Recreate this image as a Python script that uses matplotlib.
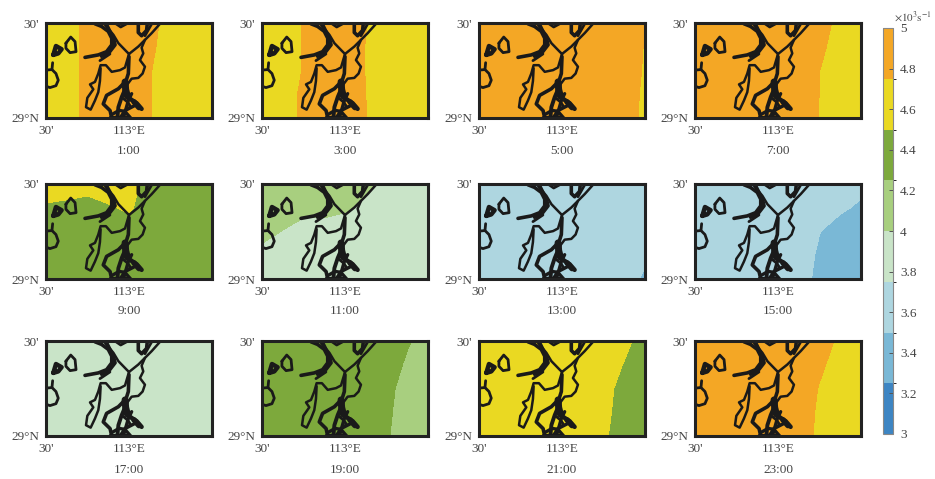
from matplotlib import pyplot as plt
from matplotlib.colors import ListedColormap, BoundaryNorm
import numpy as np

plt.rcParams['font.family'] = ['Liberation Serif', 'DejaVu Sans']
plt.rcParams['mathtext.fontset'] = 'stix'

W, H = 935, 479
text_color = '#454545'
frame_color = '#222222'

levels = [3, 3.25, 3.5, 3.75, 4, 4.25, 4.5, 4.75, 5]
band_colors = ['#3D85C3', '#7AB8D6', '#AED6E0', '#C9E4C8',
               '#A8CF7F', '#7DA93C', '#EAD922', '#F4A725']
cbar_ticks = [3, 3.2, 3.4, 3.6, 3.8, 4, 4.2, 4.4, 4.6, 4.8, 5]
cbar_labels = ['3', '3.2', '3.4', '3.6', '3.8', '4', '4.2', '4.4', '4.6', '4.8', '5']

lons = [112.5, 112.625, 112.75, 112.875, 113.0, 113.125, 113.25, 113.375, 113.5]
lats = [29.0, 29.125, 29.25, 29.375, 29.5]

# rows run from 29N up to 29.5N
field_0100 = [[4.60, 4.70, 4.78, 4.85, 4.85, 4.76, 4.66, 4.60, 4.60],
              [4.60, 4.70, 4.78, 4.85, 4.85, 4.76, 4.66, 4.60, 4.60],
              [4.60, 4.70, 4.78, 4.85, 4.85, 4.76, 4.66, 4.60, 4.60],
              [4.60, 4.70, 4.78, 4.85, 4.85, 4.78, 4.68, 4.60, 4.60],
              [4.60, 4.70, 4.78, 4.85, 4.85, 4.79, 4.70, 4.60, 4.60]]
field_0300 = [[4.60, 4.70, 4.77, 4.85, 4.85, 4.755, 4.65, 4.60, 4.60],
              [4.60, 4.70, 4.77, 4.85, 4.85, 4.75, 4.65, 4.60, 4.60],
              [4.60, 4.70, 4.755, 4.85, 4.85, 4.745, 4.65, 4.60, 4.60],
              [4.60, 4.70, 4.755, 4.85, 4.85, 4.745, 4.65, 4.60, 4.60],
              [4.60, 4.70, 4.755, 4.85, 4.85, 4.755, 4.65, 4.60, 4.60]]
field_0500 = [[4.85, 4.85, 4.85, 4.85, 4.85, 4.85, 4.85, 4.79, 4.73],
              [4.85, 4.85, 4.85, 4.85, 4.85, 4.85, 4.85, 4.79, 4.735],
              [4.85, 4.85, 4.85, 4.85, 4.85, 4.85, 4.85, 4.80, 4.74],
              [4.85, 4.85, 4.85, 4.85, 4.85, 4.85, 4.85, 4.80, 4.745],
              [4.85, 4.85, 4.85, 4.85, 4.85, 4.85, 4.85, 4.80, 4.76]]
field_0700 = [[4.85, 4.85, 4.85, 4.85, 4.85, 4.85, 4.745, 4.65, 4.60],
              [4.85, 4.85, 4.85, 4.85, 4.85, 4.85, 4.748, 4.65, 4.60],
              [4.85, 4.85, 4.85, 4.85, 4.85, 4.85, 4.752, 4.65, 4.60],
              [4.85, 4.85, 4.85, 4.85, 4.85, 4.85, 4.79, 4.67, 4.60],
              [4.85, 4.85, 4.85, 4.85, 4.85, 4.85, 4.82, 4.70, 4.60]]
field_0900 = [[4.38, 4.38, 4.38, 4.38, 4.38, 4.38, 4.38, 4.38, 4.38],
              [4.38, 4.38, 4.38, 4.38, 4.38, 4.38, 4.38, 4.38, 4.38],
              [4.38, 4.38, 4.38, 4.38, 4.38, 4.38, 4.38, 4.38, 4.38],
              [4.475, 4.45, 4.35, 4.47, 4.54, 4.35, 4.35, 4.35, 4.35],
              [4.60, 4.60, 4.65, 4.65, 4.65, 4.35, 4.35, 4.35, 4.35]]
field_1100 = [[3.85, 3.85, 3.85, 3.85, 3.85, 3.85, 3.85, 3.85, 3.85],
              [3.90, 3.85, 3.85, 3.85, 3.85, 3.85, 3.85, 3.85, 3.85],
              [4.10, 3.99, 3.80, 3.80, 3.80, 3.85, 3.85, 3.85, 3.85],
              [4.15, 4.15, 4.15, 4.15, 4.05, 3.90, 3.85, 3.85, 3.85],
              [4.15, 4.15, 4.15, 4.15, 4.15, 4.08, 3.90, 3.85, 3.85]]
field_1300 = [[3.60, 3.60, 3.60, 3.60, 3.60, 3.60, 3.60, 3.55, 3.48],
              [3.60, 3.60, 3.60, 3.60, 3.60, 3.60, 3.60, 3.60, 3.52],
              [3.60, 3.60, 3.60, 3.60, 3.60, 3.60, 3.60, 3.60, 3.60],
              [3.60, 3.60, 3.60, 3.60, 3.60, 3.60, 3.60, 3.60, 3.60],
              [3.60, 3.60, 3.60, 3.60, 3.60, 3.60, 3.60, 3.60, 3.60]]
field_1500 = [[3.60, 3.60, 3.60, 3.60, 3.60, 3.58, 3.45, 3.40, 3.40],
              [3.60, 3.60, 3.60, 3.60, 3.60, 3.60, 3.47, 3.40, 3.40],
              [3.60, 3.60, 3.60, 3.60, 3.60, 3.60, 3.505, 3.42, 3.40],
              [3.60, 3.60, 3.60, 3.60, 3.60, 3.60, 3.60, 3.53, 3.47],
              [3.60, 3.60, 3.60, 3.60, 3.60, 3.60, 3.60, 3.60, 3.55]]
field_1700 = [[3.85] * 9, [3.85] * 9, [3.85] * 9, [3.85] * 9, [3.85] * 9]
field_1900 = [[4.38, 4.38, 4.38, 4.38, 4.38, 4.38, 4.27, 4.15, 4.10],
              [4.38, 4.38, 4.38, 4.38, 4.38, 4.38, 4.29, 4.15, 4.10],
              [4.38, 4.38, 4.38, 4.38, 4.38, 4.38, 4.30, 4.18, 4.12],
              [4.38, 4.38, 4.38, 4.38, 4.38, 4.38, 4.35, 4.22, 4.15],
              [4.38, 4.38, 4.38, 4.38, 4.38, 4.38, 4.38, 4.27, 4.18]]
field_2100 = [[4.62, 4.62, 4.62, 4.62, 4.62, 4.62, 4.53, 4.40, 4.35],
              [4.62, 4.62, 4.62, 4.62, 4.62, 4.62, 4.55, 4.42, 4.35],
              [4.62, 4.62, 4.62, 4.62, 4.62, 4.62, 4.56, 4.44, 4.38],
              [4.62, 4.62, 4.62, 4.62, 4.62, 4.62, 4.60, 4.49, 4.40],
              [4.62, 4.62, 4.62, 4.62, 4.62, 4.62, 4.62, 4.55, 4.42]]
field_2300 = [[4.85, 4.85, 4.85, 4.85, 4.85, 4.84, 4.71, 4.62, 4.60],
              [4.85, 4.85, 4.85, 4.85, 4.85, 4.85, 4.72, 4.62, 4.60],
              [4.85, 4.85, 4.85, 4.85, 4.85, 4.85, 4.74, 4.65, 4.60],
              [4.85, 4.85, 4.85, 4.85, 4.85, 4.85, 4.78, 4.68, 4.60],
              [4.85, 4.85, 4.85, 4.85, 4.85, 4.85, 4.82, 4.72, 4.60]]

times = ['1:00', '3:00', '5:00', '7:00', '9:00', '11:00',
         '13:00', '15:00', '17:00', '19:00', '21:00', '23:00']
fields = [field_0100, field_0300, field_0500, field_0700,
          field_0900, field_1100, field_1300, field_1500,
          field_1700, field_1900, field_2100, field_2300]

# lake and river outlines, (lon, lat, line width)
rivers = [
    ([112.544, 112.560, 112.594, 112.574, 112.544], [29.332, 29.379, 29.362, 29.340, 29.332], 3.2),
    ([112.620, 112.649, 112.675, 112.681, 112.645, 112.620, 112.620],
     [29.394, 29.426, 29.402, 29.349, 29.344, 29.367, 29.394], 2.0),
    ([112.540, 112.536, 112.560, 112.574, 112.560, 112.524, 112.5],
     [29.291, 29.255, 29.234, 29.199, 29.170, 29.160, 29.167], 2.0),
    ([112.5, 112.536], [29.252, 29.255], 2.0),
    ([112.795, 112.835, 112.875, 112.896, 112.896, 112.865, 112.815, 112.735],
     [29.496, 29.482, 29.456, 29.420, 29.385, 29.349, 29.332, 29.319], 2.6),
    ([112.865, 112.885, 112.906, 112.916, 112.876, 112.835],
     [29.491, 29.456, 29.420, 29.385, 29.340, 29.325], 2.6),
    ([112.825, 112.885], [29.302, 29.337], 2.0),
    ([112.855, 112.906, 112.936, 112.986, 113.0], [29.491, 29.438, 29.394, 29.349, 29.337], 1.8),
    ([113.0, 113.056, 113.096, 113.137, 113.187], [29.337, 29.376, 29.411, 29.447, 29.496], 1.8),
    ([113.096, 113.076, 113.086, 113.066, 113.096, 113.082, 113.056, 113.016, 112.986],
     [29.411, 29.370, 29.340, 29.305, 29.270, 29.234, 29.211, 29.207, 29.172], 1.8),
    ([113.056, 113.056, 113.076, 113.106, 113.110], [29.496, 29.450, 29.433, 29.461, 29.496], 2.6),
    ([113.137, 113.096], [29.496, 29.433], 2.0),
    ([112.922, 112.950, 112.986], [29.496, 29.479, 29.496], 2.0),
    ([113.0, 112.976, 112.946, 112.896, 112.861, 112.829, 112.815, 112.795, 112.765, 112.785,
      112.749, 112.741, 112.769, 112.795, 112.815, 112.825, 112.829],
     [29.337, 29.266, 29.252, 29.243, 29.278, 29.278, 29.234, 29.190, 29.177, 29.151,
      29.106, 29.057, 29.044, 29.092, 29.136, 29.195, 29.261], 1.8),
    ([113.0, 112.996, 112.982, 112.936, 112.865, 112.845, 112.886, 112.896],
     [29.323, 29.234, 29.195, 29.154, 29.119, 29.074, 29.039, 29.0], 2.6),
    ([112.976, 112.976, 113.006, 113.046, 113.076], [29.181, 29.128, 29.101, 29.078, 29.048], 3.2),
    ([112.976, 112.980, 112.990], [29.190, 29.150, 29.115], 5.0),
    ([113.03, 113.06], [29.085, 29.055], 4.0),
    ([112.986, 112.956, 112.936, 112.930], [29.172, 29.110, 29.057, 29.0], 2.8),
    ([113.036, 112.976, 112.946], [29.066, 29.039, 29.0], 2.4),
    ([113.016, 112.996, 112.966], [29.128, 29.092, 29.0], 2.4),
    ([112.955, 112.99, 113.01, 112.975], [29.11, 29.085, 29.06, 29.04], 2.0),
    ([112.900, 112.940, 112.975, 113.010], [29.02, 29.04, 29.035, 29.0], 2.4),
    ([112.886, 113.002], [29.003, 29.003], 2.4),
]

cmap = ListedColormap(band_colors)
norm = BoundaryNorm(levels, cmap.N)

col_left = [46, 262, 479, 695]
col_width = 166
row_top = [23, 184, 341]
row_height = 95
time_pad = [6, 5, 6.5]

fig = plt.figure(figsize=(W / 100, H / 100), dpi=100)

for i, (when, field) in enumerate(zip(times, fields)):
    left = col_left[i % 4]
    top = row_top[i // 4]
    ax = fig.add_axes([left / W, 1 - (top + row_height) / H, col_width / W, row_height / H])
    cs = ax.contourf(lons, lats, field, levels=levels, cmap=cmap, norm=norm)
    for xs, ys, lw in rivers:
        ax.plot(xs, ys, color='#1a1a1a', lw=lw, solid_capstyle='round', solid_joinstyle='round')
    ax.set_xlim(112.5, 113.5)
    ax.set_ylim(29, 29.5)
    ax.set_xticks([112.5, 113], ["30'", '113°E'])
    ax.set_yticks([29, 29.5], ['29°N', "30'"])
    ax.tick_params(length=0, labelsize=9.5, labelcolor=text_color, pad=5)
    ax.set_xlabel(when, fontsize=9.5, color=text_color, labelpad=time_pad[i // 4])
    for spine in ax.spines.values():
        spine.set_linewidth(2.2)
        spine.set_color(frame_color)

cax = fig.add_axes([883 / W, 1 - 434 / H, 10 / W, 406 / H])
cbar = fig.colorbar(cs, cax=cax, ticks=cbar_ticks)
cbar.ax.set_yticklabels(cbar_labels)
cbar.ax.tick_params(direction='in', length=3, width=0.7, labelsize=9.5,
                    labelcolor=text_color, color='#555555', pad=5)
cbar.outline.set_edgecolor('#888888')
cbar.outline.set_linewidth(0.8)
cbar.ax.text(1.1, 1.012, r'$\times10^{3}\mathrm{s}^{-1}$', transform=cbar.ax.transAxes,
             fontsize=8, color=text_color, ha='left', va='bottom', clip_on=False)

fig.savefig('out.png', dpi=100)
